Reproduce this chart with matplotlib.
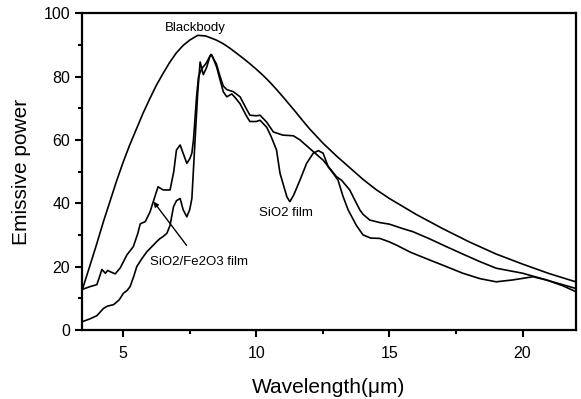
import matplotlib.pyplot as plt
from matplotlib.ticker import MultipleLocator

plt.rcParams['font.family'] = ['Liberation Sans', 'DejaVu Sans']

# blackbody curve
bb_x = [3.46, 3.75, 4.0, 4.25, 4.5, 4.75, 5.0, 5.25, 5.5, 5.75, 6.0, 6.25,
        6.5, 6.75, 7.0, 7.25, 7.5, 7.8, 8.1, 8.5, 8.75, 9.0, 9.25, 9.5, 9.75,
        10.0, 10.25, 10.5, 10.75, 11.0, 11.25, 11.5, 11.75, 12.0, 12.5, 13.0,
        13.5, 14.0, 14.5, 15.0, 15.5, 16.0, 17.0, 18.0, 19.0, 20.0, 21.0, 22.0]
bb_y = [12.6, 20.3, 27.0, 34.0, 40.5, 47.0, 53.0, 58.5, 63.5, 68.5, 73.0, 77.3,
        81.0, 84.5, 87.5, 89.8, 91.5, 93.0, 92.8, 91.5, 90.4, 89.0, 87.4, 85.8,
        84.1, 82.3, 80.4, 78.3, 76.0, 73.6, 71.1, 68.6, 66.0, 63.5, 59.0, 55.0,
        51.3, 47.6, 44.3, 41.5, 39.0, 36.5, 32.0, 27.8, 24.0, 20.8, 17.8, 15.2]

# SiO2/Fe2O3 film
fe_x = [3.46, 3.76, 4.01, 4.12, 4.2, 4.33, 4.42, 4.51, 4.7, 4.89, 5.14, 5.38,
        5.55, 5.64, 5.83, 6.01, 6.13, 6.31, 6.5, 6.76, 6.9, 7.0, 7.14, 7.25,
        7.39, 7.5, 7.58, 7.64, 7.76, 7.83, 7.95, 8.1, 8.3, 8.5, 8.64, 8.76,
        8.89, 9.14, 9.39, 9.64, 9.76, 10.0, 10.14, 10.39, 10.64, 11.0, 11.39,
        11.64, 12.14, 12.51, 12.76, 13.01, 13.2, 13.51, 13.7, 13.89, 14.01,
        14.26, 14.64, 15.0, 15.5, 15.89, 16.5, 17.14, 17.8, 18.39, 19.01,
        20.01, 20.89, 22.0]
fe_y = [12.8, 13.7, 14.3, 17.0, 19.1, 17.9, 18.8, 18.4, 17.7, 19.6, 23.7, 26.3,
        30.5, 33.5, 34.2, 37.3, 40.5, 45.2, 44.2, 44.2, 50.0, 56.8, 58.4, 55.8,
        52.6, 54.0, 55.8, 60.0, 74.0, 80.0, 82.5, 84.0, 87.0, 84.0, 80.0, 77.0,
        75.9, 75.2, 73.6, 69.6, 67.8, 67.6, 67.8, 65.6, 62.5, 61.5, 61.3,
        60.0, 56.3, 53.6, 51.0, 48.4, 47.3, 44.2, 41.0, 37.9, 36.5,
        34.7, 33.9, 33.4, 32.0, 31.0, 28.8, 26.3, 23.8, 21.6, 19.5,
        17.9, 15.8, 13.1]

# SiO2 film
si_x = [3.46, 3.75, 4.01, 4.26, 4.4, 4.64, 4.85, 5.01, 5.15, 5.26, 5.4, 5.51,
        5.7, 5.89, 6.1, 6.26, 6.39, 6.5, 6.64, 6.76, 6.89, 7.0, 7.14, 7.25,
        7.39, 7.5, 7.58, 7.7, 7.8, 7.89, 8.01, 8.14, 8.26, 8.33, 8.51, 8.64,
        8.76, 8.89, 9.08, 9.2, 9.39, 9.64, 9.76, 10.0, 10.14, 10.39, 10.55,
        10.76, 10.89, 11.01, 11.15, 11.26, 11.4, 11.64, 11.89, 12.14, 12.33,
        12.51, 12.7, 12.89, 13.07, 13.26, 13.45, 13.76, 14.01, 14.3, 14.64,
        15.0, 15.26, 15.8, 16.51, 17.14, 17.76, 18.4, 19.01, 19.64, 20.39,
        20.89, 21.5, 22.0]
si_y = [2.6, 3.5, 4.5, 6.8, 7.5, 8.0, 9.5, 11.6, 12.5, 13.7, 17.0, 20.0,
        22.5, 24.7, 26.5, 27.9, 28.9, 29.5, 30.5, 33.0, 38.9, 40.8, 41.5, 38.0,
        35.7, 38.0, 41.5, 60.0, 75.0, 84.6, 80.6, 83.0, 86.5, 86.8, 83.0, 78.9,
        75.2, 73.6, 74.5, 73.4, 71.4, 67.4, 65.8, 65.8, 66.2, 64.0, 61.2,
        56.8, 49.5, 46.0, 42.0, 40.5, 42.5, 47.3, 52.6, 55.8, 56.6,
        55.8, 51.5, 49.4, 47.3, 42.1, 37.9, 33.0, 30.0, 29.0, 28.9,
        27.8, 26.8, 24.5, 22.1, 20.0, 17.9, 16.2, 15.2, 15.8, 16.8,
        15.8, 14.0, 12.1]

fig = plt.figure(figsize=(5.81, 3.99), dpi=100)
ax = fig.add_axes([0.141, 0.173, 0.85, 0.794])

ax.plot(bb_x, bb_y, color='black', lw=1.2)
ax.plot(fe_x, fe_y, color='black', lw=1.2)
ax.plot(si_x, si_y, color='black', lw=1.2)

ax.set_xlim(3.45, 22)
ax.set_ylim(0, 100)
ax.xaxis.set_major_locator(MultipleLocator(5))
ax.xaxis.set_minor_locator(MultipleLocator(2.5))
ax.yaxis.set_major_locator(MultipleLocator(20))
ax.yaxis.set_minor_locator(MultipleLocator(10))
ax.tick_params(which='major', direction='out', length=5, width=1.5, labelsize=11.5)
ax.tick_params(axis='x', which='major', pad=6.5)
ax.tick_params(which='minor', direction='out', length=3, width=1.5)
for s in ax.spines.values():
    s.set_linewidth(1.6)

ax.text(7.7, 95.3, 'Blackbody', fontsize=9.5, ha='center', va='center')
ax.text(11.1, 37, 'SiO2 film', fontsize=9.5, ha='center', va='center')
ax.annotate('SiO2/Fe2O3 film', xy=(6.14, 40.5), xytext=(7.85, 21.5),
            fontsize=9.5, ha='center', va='center',
            arrowprops=dict(arrowstyle='-|>', color='black', lw=1.0,
                            shrinkA=7, shrinkB=0, mutation_scale=7))

ax.set_xlabel('Wavelength(μm)', fontsize=15, labelpad=12)
ax.set_ylabel('Emissive power', fontsize=15, labelpad=9)

fig.savefig('out.png', dpi=100)
